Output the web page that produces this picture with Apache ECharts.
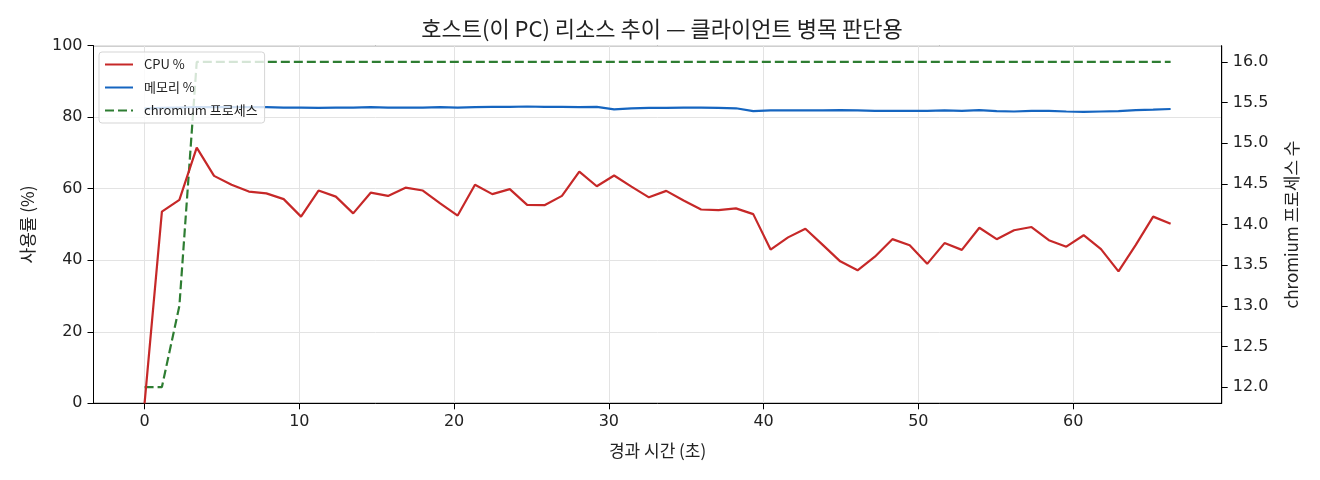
<!DOCTYPE html>
<html>
<head>
<meta charset="utf-8">
<script src="https://cdn.jsdelivr.net/npm/echarts@6/dist/echarts.min.js"></script>
<style>
  html, body { margin: 0; padding: 0; background: #fff; }
  #main { width: 1320px; height: 480px; }
</style>
</head>
<body>
<div id="main"></div>
<script>
// elapsed seconds for each sample
var times = [0, 1.12, 2.25, 3.37, 4.49, 5.62, 6.74, 7.87, 8.99, 10.11,
  11.24, 12.36, 13.48, 14.61, 15.73, 16.86, 17.98, 19.10, 20.23, 21.35,
  22.47, 23.60, 24.72, 25.84, 26.97, 28.09, 29.22, 30.34, 31.46, 32.59,
  33.71, 34.83, 35.96, 37.08, 38.21, 39.33, 40.45, 41.58, 42.70, 43.82,
  44.95, 46.07, 47.19, 48.32, 49.44, 50.57, 51.69, 52.81, 53.94, 55.06,
  56.18, 57.31, 58.43, 59.56, 60.68, 61.80, 62.93, 64.05, 65.17, 66.30];

var cpu = [0, 53.6, 56.9, 71.5, 63.6, 61.1, 59.2, 58.7, 57.1, 52.2,
  59.5, 57.8, 53.1, 58.9, 58.0, 60.3, 59.5, 55.9, 52.5, 61.1,
  58.5, 59.9, 55.5, 55.4, 58.0, 64.8, 60.7, 63.7, 60.6, 57.6,
  59.4, 56.7, 54.2, 54.0, 54.5, 52.9, 43.0, 46.4, 48.8, 44.3,
  39.7, 37.2, 41.0, 45.9, 44.2, 39.0, 44.8, 42.9, 49.1, 45.9,
  48.4, 49.3, 45.6, 43.8, 47.0, 43.1, 36.9, 44.3, 52.2, 50.2];

var memory = [82.4, 82.6, 82.7, 82.8, 82.8, 82.8, 82.8, 82.8, 82.7, 82.7,
  82.6, 82.7, 82.7, 82.8, 82.7, 82.7, 82.7, 82.8, 82.7, 82.8,
  82.9, 82.9, 83.0, 82.9, 82.9, 82.8, 82.9, 82.2, 82.5, 82.6,
  82.6, 82.7, 82.7, 82.6, 82.5, 81.7, 81.9, 81.9, 81.9, 81.9,
  82.0, 81.9, 81.8, 81.8, 81.8, 81.8, 81.9, 81.8, 82.0, 81.7,
  81.6, 81.8, 81.8, 81.6, 81.5, 81.6, 81.7, 82.0, 82.1, 82.3];

var chromium = [12, 12, 13, 16, 16, 16, 16, 16, 16, 16,
  16, 16, 16, 16, 16, 16, 16, 16, 16, 16,
  16, 16, 16, 16, 16, 16, 16, 16, 16, 16,
  16, 16, 16, 16, 16, 16, 16, 16, 16, 16,
  16, 16, 16, 16, 16, 16, 16, 16, 16, 16,
  16, 16, 16, 16, 16, 16, 16, 16, 16, 16];

var pctTicks = [0, 20, 40, 60, 80, 100];

function pairs(ys) {
  return ys.map(function (y, i) { return [times[i], y]; });
}

var FONT = "'Noto Sans CJK KR', 'Noto Sans', sans-serif";
var NUMFONT = "'DejaVu Sans', sans-serif";
var TXT = "#222";
var GRID = "#e3e3e3";

var chart = echarts.init(document.getElementById("main"));

var option = {
  backgroundColor: "#fff",
  animation: false,
  textStyle: { fontFamily: FONT },
  title: {
    text: "호스트(이 PC) 리소스 추이 — 클라이언트 병목 판단용",
    left: 657,
    textAlign: "center",
    top: 13,
    textStyle: { fontFamily: FONT, fontSize: 22, fontWeight: "normal", color: TXT }
  },
  legend: {
    orient: "vertical",
    left: 99,
    top: 52,
    padding: [6, 7, 6, 5],
    itemWidth: 28,
    itemHeight: 14,
    itemGap: 10,
    backgroundColor: "rgba(255,255,255,0.8)",
    borderColor: "#d5d5d5",
    borderWidth: 1,
    borderRadius: 3,
    itemStyle: { opacity: 0 },
    textStyle: { fontFamily: FONT, fontSize: 13, color: TXT, padding: [0, 0, 0, 6] },
    data: ["CPU %", "메모리 %", "chromium 프로세스"]
  },
  grid: {
    left: 93.5,
    right: 98.3,
    top: 45.7,
    bottom: 76.7,
    show: true,
    borderColor: "#000",
    borderWidth: 1
  },
  xAxis: {
    type: "value",
    min: -3.3,
    max: 69.6,
    splitNumber: 7,
    name: "경과 시간 (초)",
    nameLocation: "middle",
    nameGap: 39,
    nameTextStyle: { fontFamily: FONT, fontSize: 17, color: TXT },
    axisLine: { show: true, onZero: false, lineStyle: { color: "#000", width: 1 } },
    axisTick: { show: true, length: 6, lineStyle: { color: "#000" } },
    axisLabel: { showMinLabel: false, showMaxLabel: false, fontFamily: NUMFONT, fontSize: 16, color: TXT, margin: 11 },
    splitLine: { show: true, lineStyle: { color: GRID, width: 1 } }
  },
  yAxis: [
    {
      type: "value",
      position: "left",
      min: pctTicks[0],
      max: pctTicks[pctTicks.length - 1],
      interval: 20,
      name: "사용률 (%)",
      nameLocation: "middle",
      nameRotate: 90,
      nameGap: 57,
      nameTextStyle: { fontFamily: FONT, fontSize: 17, color: TXT },
      axisLine: { show: true, onZero: false, lineStyle: { color: "#000", width: 1 } },
      axisTick: { show: true, length: 6, lineStyle: { color: "#000" } },
      axisLabel: { fontFamily: NUMFONT, fontSize: 16, color: TXT, margin: 11 },
      splitLine: { show: true, lineStyle: { color: GRID, width: 1 } }
    },
    {
      type: "value",
      position: "right",
      min: 11.8,
      max: 16.2,
      splitNumber: 8,
      name: "chromium 프로세스 수",
      nameLocation: "middle",
      nameRotate: 90,
      nameGap: 61,
      nameTextStyle: { fontFamily: FONT, fontSize: 17, color: TXT },
      axisLine: { show: true, onZero: false, lineStyle: { color: "#000", width: 1 } },
      axisTick: { show: true, length: 6, lineStyle: { color: "#000" } },
      axisLabel: {
        showMinLabel: false,
        showMaxLabel: false,
        fontFamily: NUMFONT,
        fontSize: 16,
        color: TXT,
        margin: 11,
        formatter: function (v) { return v.toFixed(1); }
      },
      splitLine: { show: false }
    }
  ],
  series: [
    {
      name: "CPU %",
      type: "line",
      yAxisIndex: 0,
      symbol: "none",
      data: pairs(cpu),
      lineStyle: { color: "#c62828", width: 2.2 },
      itemStyle: { color: "#c62828" },
      z: 3
    },
    {
      name: "메모리 %",
      type: "line",
      yAxisIndex: 0,
      symbol: "none",
      data: pairs(memory),
      lineStyle: { color: "#1565c0", width: 2.2 },
      itemStyle: { color: "#1565c0" },
      z: 3
    },
    {
      name: "chromium 프로세스",
      type: "line",
      yAxisIndex: 1,
      symbol: "none",
      data: pairs(chromium),
      lineStyle: { color: "#2e7d32", width: 2.2, type: [9, 4] },
      itemStyle: { color: "#2e7d32" },
      z: 2
    }
  ]
};

option && chart.setOption(option);
</script>
</body>
</html>
